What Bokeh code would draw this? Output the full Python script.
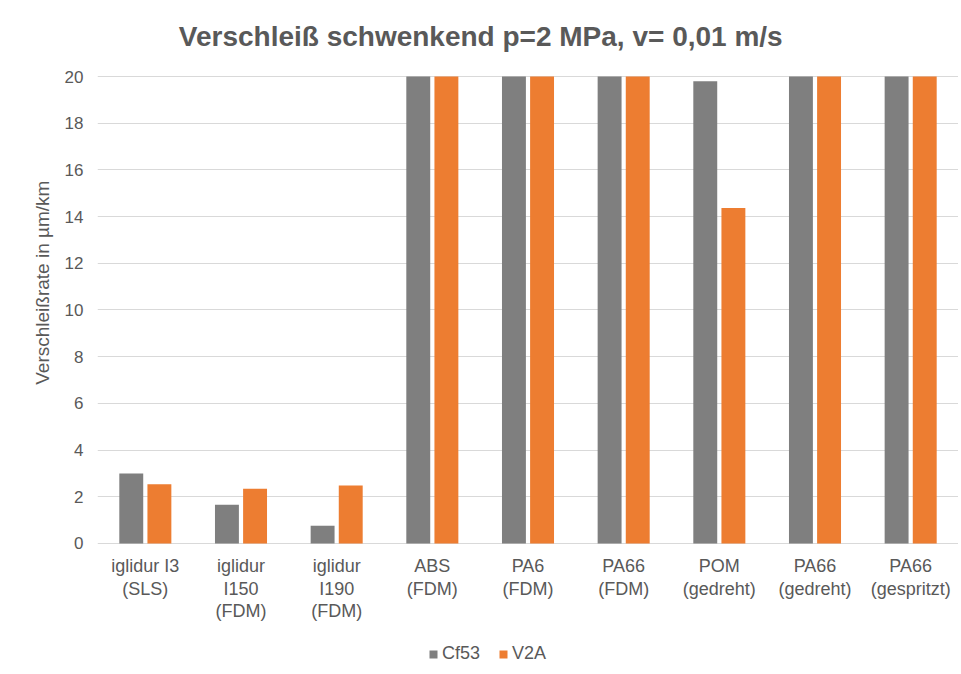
import math
from bokeh.plotting import figure
from bokeh.models import (ColumnDataSource, Legend, LegendItem, Range1d, FactorRange,
                          FixedTicker, Label)
from bokeh.transform import dodge
from bokeh.core.properties import value
from bokeh.embed import file_html
from bokeh.resources import INLINE

categories = ["iglidur I3\n(SLS)", "iglidur\nI150\n(FDM)", "iglidur\nI190\n(FDM)", "ABS\n(FDM)",
              "PA6\n(FDM)", "PA66\n(FDM)", "POM\n(gedreht)", "PA66\n(gedreht)", "PA66\n(gespritzt)"]
cf53 = [3.0, 1.66, 0.76, 20, 20, 20, 19.8, 20, 20]
v2a = [2.54, 2.34, 2.48, 20, 20, 20, 14.37, 20, 20]
series_names = ["Cf53", "V2A"]
colors = ["#7f7f7f", "#ed7d31"]
y_ticks = [0, 2, 4, 6, 8, 10, 12, 14, 16, 18, 20]

title_text = "Verschleiß schwenkend  p=2 MPa,  v= 0,01 m/s"
y_label_text = "Verschleißrate in µm/km"

TXT = "#595959"
FONT = "Liberation Sans"

src = ColumnDataSource(dict(cat=categories, cf53=cf53, v2a=v2a))

# category label lines (split of the category names)
lab_x, lab_t, lab_off = [], [], []
for c in categories:
    for i, line in enumerate(c.split("\n")):
        lab_x.append(c)
        lab_t.append(line)
        lab_off.append(23 + 22.5 * i)
lab_src = ColumnDataSource(dict(x=lab_x, t=lab_t, off=lab_off, y=[0] * len(lab_x)))

p = figure(x_range=FactorRange(*categories, range_padding=0), y_range=Range1d(-5.44, 23.255),
           width=958, height=670, output_backend="svg", toolbar_location=None,
           min_border_left=97, min_border_right=0, min_border_top=0, min_border_bottom=0)
p.title.visible = False
p.xaxis.visible = False

r1 = p.vbar(x=dodge("cat", -0.147, range=p.x_range), top="cf53", width=0.25, source=src,
            color=colors[0], line_color=None)
r2 = p.vbar(x=dodge("cat", 0.147, range=p.x_range), top="v2a", width=0.25, source=src,
            color=colors[1], line_color=None)

p.text(x="x", y="y", text="t", y_offset="off", source=lab_src, text_align="center",
       text_baseline="middle", text_font=value(FONT), text_font_size="18px", text_color=TXT)

legend = Legend(items=[LegendItem(label=series_names[0], renderers=[r1]),
                       LegendItem(label=series_names[1], renderers=[r2])],
                orientation="horizontal", location=(331, 6))
legend.border_line_color = None
legend.background_fill_alpha = 0
legend.label_text_font = FONT
legend.label_text_font_size = "18px"
legend.label_text_color = TXT
legend.glyph_width = 10
legend.glyph_height = 10
legend.label_standoff = 4
legend.spacing = 18
legend.margin = 0
legend.padding = 2
p.add_layout(legend, "center")

p.add_layout(Label(x=391, y=634, x_units="screen", y_units="screen", text=title_text,
                   text_align="center", text_baseline="middle", text_font=FONT,
                   text_font_size="28px", text_font_style="bold", text_color=TXT))

# axis label is centred on the full frame; pad its start so it sits over the 0-20 scale
p.yaxis.axis_label = "\u00a0" * 20 + y_label_text
p.yaxis.axis_label_text_font = FONT
p.yaxis.axis_label_text_font_size = "19px"
p.yaxis.axis_label_text_font_style = "normal"
p.yaxis.axis_label_text_color = TXT
p.yaxis.axis_label_standoff = 9

p.yaxis.ticker = FixedTicker(ticks=y_ticks)
p.yaxis.major_label_text_font = FONT
p.yaxis.major_label_text_font_size = "17px"
p.yaxis.major_label_text_color = TXT
p.yaxis.axis_line_color = None
p.yaxis.major_tick_line_color = None
p.yaxis.minor_tick_line_color = None
p.yaxis.major_tick_out = 0
p.yaxis.major_tick_in = 0
p.yaxis.major_label_standoff = 14

p.xgrid.grid_line_color = None
p.ygrid.grid_line_color = "#d9d9d9"
p.ygrid.grid_line_width = 1.2
p.outline_line_color = None
p.border_fill_color = "white"

open("out.html", "w").write(file_html(p, INLINE))
